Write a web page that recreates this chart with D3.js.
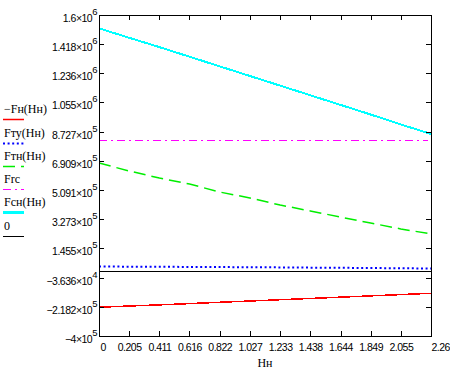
<!DOCTYPE html>
<html>
<head>
<meta charset="utf-8">
<script src="https://cdn.jsdelivr.net/npm/d3@7"></script>
<style>
  body { margin: 0; background: #fff; }
  svg { display: block; }
  .tick-label { font-family: "Liberation Sans", Arial, sans-serif; font-size: 10.5px; letter-spacing: -0.5px; fill: #000; }
  .legend-label { font-family: "Liberation Serif", "Times New Roman", serif; font-size: 12px; fill: #000; }
</style>
</head>
<body>
<div id="chart"></div>
<script>
// x axis (Hн) ticks, as printed
const xTickLabels = ['0', '0.205', '0.411', '0.616', '0.822', '1.027', '1.233', '1.438', '1.644', '1.849', '2.055', '2.26'];
// y axis ticks: mantissa and power of ten
const yTickMantissa = ['−4', '−2.182', '−3.636', '1.455', '3.273', '5.091', '6.909', '8.727', '1.055', '1.236', '1.418', '1.6'];
const yTickExp = [5, 5, 4, 5, 5, 5, 5, 5, 6, 6, 6, 6];

// sample points along Hн
const hValues = [0, 0.2055, 0.411, 0.6164, 0.822, 1.0273, 1.233, 1.4382, 1.644, 1.849, 2.0545, 2.26];
// series
const fnNeg = [-221000, -213000, -206000, -198000, -190000, -182000, -174000, -166000, -158000, -150000, -142000, -134000];
const fty = [33000, 32000, 31000, 30500, 29500, 28500, 27500, 26000, 25000, 23500, 22000, 20500];
const ftn = [678000, 628000, 584000, 547000, 497000, 460000, 416000, 379000, 341000, 304000, 267000, 236000];
const frc = [821000, 821000];
const frcH = [0, 2.24];
const fcn = [1517000, 1458000, 1400000, 1340000, 1280000, 1220000, 1160000, 1100000, 1040000, 980000, 918000, 859000];
const zeroLine = [0, 0];
const zeroH = [0, 2.26];

const legendItems = [
  { label: '−Fн(Hн)', color: '#ff0000', width: 1.5, dash: null, crisp: true },
  { label: 'Fту(Hн)', color: '#0000ff', width: 2, dash: '2,2.6', crisp: false },
  { label: 'Fтн(Hн)', color: '#00ee00', width: 1.5, dash: '12,6', crisp: false },
  { label: 'Frc', color: '#ff00ff', width: 1, dash: '8,4,2,4', crisp: true },
  { label: 'Fcн(Hн)', color: '#00ffff', width: 2, dash: null, crisp: true },
  { label: '0', color: '#000000', width: 1, dash: null, crisp: true }
];

class MathcadPlot {
  constructor(selector) {
    this.selector = selector;
    this.width = 450;
    this.height = 372;
    this.left = 99;
    this.right = 431;
    this.top = 15;
    this.bottom = 336;
    this.tickLen = 5;
  }
  get xScale() {
    return d3.scaleLinear().domain([0, 2.26]).range([this.left, this.right]);
  }
  get yScale() {
    return d3.scaleLinear().domain([-4e5, 1.6e6]).range([this.bottom, this.top]);
  }
  createSvg() {
    this.svg = d3.select(this.selector).append('svg')
      .attr('width', this.width)
      .attr('height', this.height);
    this.svg.append('defs').append('clipPath').attr('id', 'plot-clip')
      .append('rect')
        .attr('x', this.left)
        .attr('y', this.top)
        .attr('width', this.right - this.left)
        .attr('height', this.bottom - this.top);
  }
  renderSeries() {
    const x = this.xScale, y = this.yScale;
    const body = this.svg.append('g').attr('clip-path', 'url(#plot-clip)');
    const series = [
      [hValues, fnNeg, legendItems[0]],
      [hValues, fty, legendItems[1]],
      [hValues, ftn, legendItems[2]],
      [frcH, frc, legendItems[3]],
      [hValues, fcn, legendItems[4]],
      [zeroH, zeroLine, legendItems[5]]
    ];
    series.forEach(([hs, vs, st]) => {
      const pts = hs.map((h, i) => [h, vs[i]]);
      body.append('path')
        .datum(pts)
        .attr('fill', 'none')
        .attr('stroke', st.color)
        .attr('stroke-width', st.width)
        .attr('stroke-dasharray', st.dash)
        .attr('shape-rendering', st.crisp ? 'crispEdges' : null)
        .attr('d', d3.line().x(d => x(d[0])).y(d => y(d[1])));
    });
  }
  renderAxes() {
    const x = this.xScale, y = this.yScale;
    const axes = this.svg.append('g');
    const xTickValues = xTickLabels.map(Number);

    // bottom axis: ticks point inward
    const bottomAxis = axes.append('g')
      .attr('transform', `translate(0,${this.bottom})`)
      .call(d3.axisBottom(x).tickValues(xTickValues).tickSize(-this.tickLen).tickPadding(8)
        .tickFormat((d, i) => xTickLabels[i]));
    bottomAxis.select('.domain').remove();
    bottomAxis.selectAll('text')
      .attr('class', 'tick-label')
      .attr('font-family', null).attr('font-size', null)
      .attr('text-anchor', (d, i) => (i === 0 || i === xTickLabels.length - 1) ? 'start' : 'middle')
      .attr('dx', (d, i) => i === 0 ? 1 : 0);
    // top ticks
    const topAxis = axes.append('g')
      .attr('transform', `translate(0,${this.top})`)
      .call(d3.axisTop(x).tickValues(xTickValues).tickSize(-this.tickLen).tickFormat(''));
    topAxis.select('.domain').remove();

    const yTickValues = yTickMantissa.map((m, i) => Number(m.replace('−', '-')) * Math.pow(10, yTickExp[i]));
    const leftAxis = axes.append('g')
      .attr('transform', `translate(${this.left},0)`)
      .call(d3.axisLeft(y).tickValues(yTickValues).tickSize(-this.tickLen).tickFormat(''));
    leftAxis.select('.domain').remove();
    const rightAxis = axes.append('g')
      .attr('transform', `translate(${this.right},0)`)
      .call(d3.axisRight(y).tickValues(yTickValues).tickSize(-this.tickLen).tickFormat(''));
    rightAxis.select('.domain').remove();

    // y labels with superscript power of ten
    const labels = axes.append('g');
    yTickValues.forEach((v, i) => {
      const t = labels.append('text')
        .attr('class', 'tick-label')
        .attr('x', this.left - 2)
        .attr('y', y(v) + 7)
        .attr('text-anchor', 'end');
      t.append('tspan').text(`${yTickMantissa[i]}×10`);
      t.append('tspan').attr('dy', -7).attr('font-size', '9.5px').text(yTickExp[i]);
    });

    axes.selectAll('.tick line').attr('stroke', '#000').attr('shape-rendering', 'crispEdges');

    // frame
    axes.append('rect')
      .attr('x', this.left + 0.5)
      .attr('y', this.top + 0.5)
      .attr('width', this.right - this.left)
      .attr('height', this.bottom - this.top)
      .attr('fill', 'none')
      .attr('stroke', '#000')
      .attr('stroke-width', 1);

    axes.append('text')
      .attr('class', 'legend-label')
      .attr('x', (this.left + this.right) / 2)
      .attr('y', 367)
      .attr('text-anchor', 'middle')
      .text('Hн');
  }
  renderLegend() {
    const legend = this.svg.append('g');
    const baselines = [113, 137, 160, 183, 206, 230];
    legendItems.forEach((item, i) => {
      legend.append('text')
        .attr('class', 'legend-label')
        .attr('x', 4)
        .attr('y', baselines[i])
        .text(item.label);
      legend.append('line')
        .attr('x1', 3).attr('x2', 24)
        .attr('y1', baselines[i] + 6.5).attr('y2', baselines[i] + 6.5)
        .attr('stroke', item.color)
        .attr('stroke-width', i === 4 ? 3 : item.width)
        .attr('stroke-dasharray', item.dash);
    });
  }
  render() {
    this.createSvg();
    this.renderSeries();
    this.renderAxes();
    this.renderLegend();
  }
}

new MathcadPlot('#chart').render();
</script>
</body>
</html>
